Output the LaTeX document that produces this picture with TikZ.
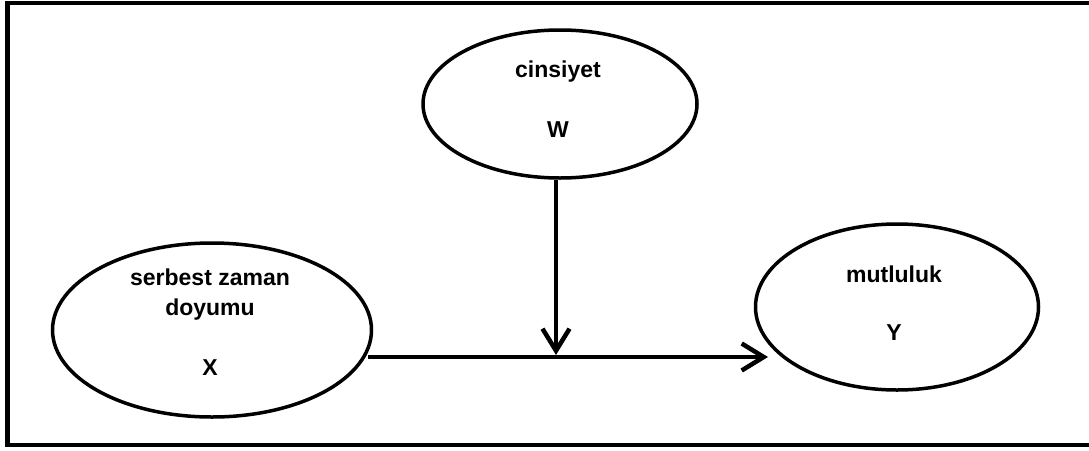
\documentclass[tikz,border=0pt]{standalone}
\usepackage{fontspec}
\setmainfont{Liberation Sans}
\usetikzlibrary{shapes.geometric,arrows.meta}
\begin{document}
\begin{tikzpicture}[x=1pt,y=-1pt,
  oval/.style={draw=black,line width=3.5pt,ellipse,inner sep=0pt},
  lbl/.style={anchor=base,inner sep=0pt,font=\fontsize{23}{27}\selectfont\bfseries},
  arr/.style={line width=4.5pt,-{Straight Barb[length=22pt,width=27pt,line width=4.5pt]}}]
\useasboundingbox (0,0) rectangle (1089,450);
\draw[line width=4.5pt] (7.5,3) rectangle (1100,445);
% ellipses
\node[oval,minimum width=274pt,minimum height=148pt] (W) at (560,104) {};
\node[oval,minimum width=319pt,minimum height=174pt] (X) at (212,330) {};
\node[oval,minimum width=283pt,minimum height=166pt] (Y) at (897,307) {};
% labels
\node[lbl] (wt) at (558,77) {cinsiyet};
\node[lbl] (wl) at (558,137) {W};
\node[lbl] (xt1) at (210,285) {serbest zaman};
\node[lbl] (xt2) at (210,315) {doyumu};
\node[lbl] (xl) at (210,375) {X};
\node[lbl] (yt) at (894,282) {mutluluk};
\node[lbl] (yl) at (894,340) {Y};
% connectors
\coordinate (xs) at (368,357);
\coordinate (ye) at (768,357);
\coordinate (mid) at (556,355);
\draw[arr] (xs) -- (ye);
\draw[arr] (W.south -| mid) -- (mid);
\end{tikzpicture}
\end{document}
